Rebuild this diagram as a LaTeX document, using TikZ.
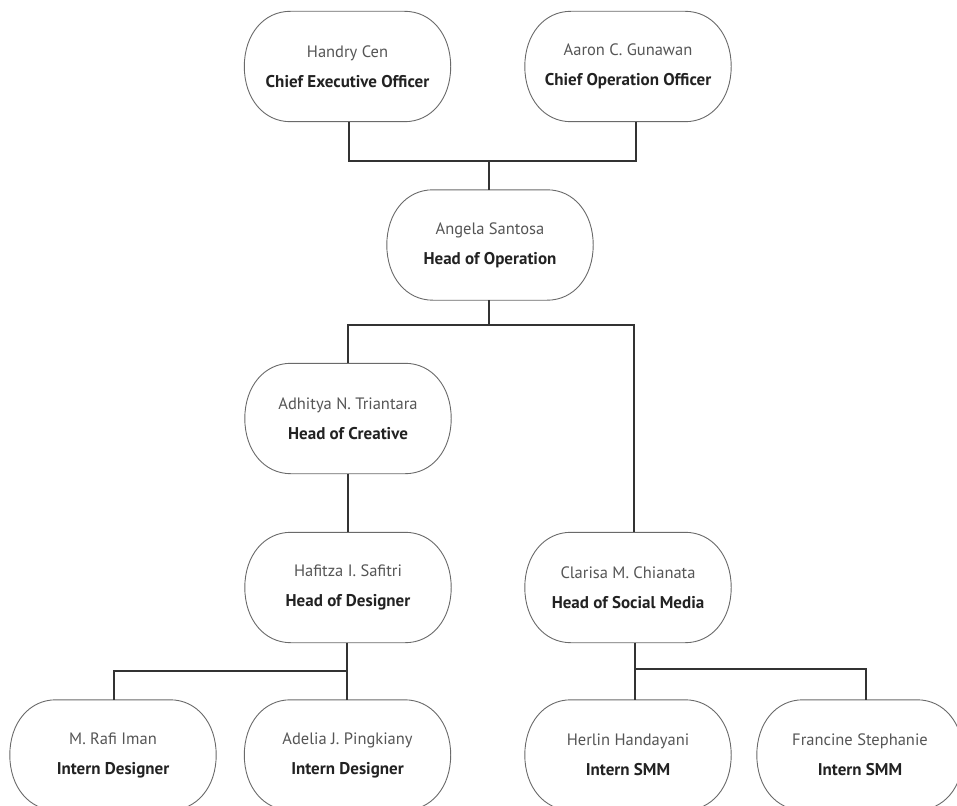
\documentclass[tikz,border=0pt]{standalone}
\usepackage{fontspec}
\setmainfont{PT Sans}
\usetikzlibrary{calc}
\definecolor{namegray}{HTML}{555555}
\definecolor{titleblack}{HTML}{222222}
\definecolor{boxgray}{HTML}{6A6A6A}
\definecolor{linegray}{HTML}{333333}
\newcommand{\person}[2]{{\color{namegray}\fontsize{16.5}{30}\selectfont #1}\\{\color{titleblack}\fontsize{17}{30}\selectfont\bfseries #2}}
\begin{document}
\begin{tikzpicture}[x=1pt,y=-1pt,
  personbox/.style={minimum width=206pt, minimum height=110pt, align=center, inner sep=0pt,
    font=\fontsize{17}{30}\selectfont},
  boxline/.style={draw=boxgray, line width=0.9pt},
  orgline/.style={draw=linegray, line width=1.2pt}]
\useasboundingbox (0,0) rectangle (957,805);
\clip (0,0) rectangle (957,805);
\fill[white] (0,0) rectangle (957,805);
% nodes
\node[personbox] (ceo) at (347.5,66.5) {\person{Handry Cen}{Chief Executive Officer}};
\node[personbox] (coo) at (628,66.5) {\person{Aaron C. Gunawan}{Chief Operation Officer}};
\node[personbox] (hop) at (490,245) {\person{Angela Santosa}{Head of Operation}};
\node[personbox] (hoc) at (348,418.5) {\person{Adhitya N. Triantara}{Head of Creative}};
\node[personbox] (hod) at (348,587.5) {\person{Hafitza I. Safitri}{Head of Designer}};
\node[personbox] (hsm) at (628,587.5) {\person{Clarisa M. Chianata}{Head of Social Media}};
\node[personbox] (id1) at (113,755) {\person{M. Rafi Iman}{Intern Designer}};
\node[personbox] (id2) at (347.5,755) {\person{Adelia J. Pingkiany}{Intern Designer}};
\node[personbox] (sm1) at (628,755) {\person{Herlin Handayani}{Intern SMM}};
\node[personbox] (sm2) at (860,755) {\person{Francine Stephanie}{Intern SMM}};
% box outlines with elliptical ends
\foreach \n in {ceo,coo,hop,hoc,hod,hsm,id1,id2,sm1,sm2}{
  \coordinate (tl) at ($(\n.north west)+(46,0)$);
  \coordinate (tr) at ($(\n.north east)+(-46,0)$);
  \coordinate (br) at ($(\n.south east)+(-46,0)$);
  \coordinate (bl) at ($(\n.south west)+(46,0)$);
  \draw[boxline] (\n.west)
    .. controls ($(\n.west)!0.58!(\n.north west)$) and ($(tl)!0.58!(\n.north west)$) .. (tl)
    -- (tr)
    .. controls ($(tr)!0.58!(\n.north east)$) and ($(\n.east)!0.58!(\n.north east)$) .. (\n.east)
    .. controls ($(\n.east)!0.58!(\n.south east)$) and ($(br)!0.58!(\n.south east)$) .. (br)
    -- (bl)
    .. controls ($(bl)!0.58!(\n.south west)$) and ($(\n.west)!0.58!(\n.south west)$) .. (\n.west) -- cycle;
}
% junction coordinates
\coordinate (j1) at (489,161);
\coordinate (j2) at (489,325);
\coordinate (j3) at (347,671);
\coordinate (j4) at (635,669);
% connectors
\draw[orgline] ([xshift=1.5pt]ceo.south) |- (j1);
\draw[orgline] ([xshift=8pt]coo.south) |- (j1);
\draw[orgline] (j1) -- ([xshift=-1pt]hop.north);
\draw[orgline] ([xshift=-1pt]hop.south) -- (j2);
\draw[orgline] (j2) -| (hoc.north);
\draw[orgline] (j2) -| ([xshift=6pt]hsm.north);
\draw[orgline] (hoc.south) -- (hod.north);
\draw[orgline] ([xshift=-1pt]hod.south) -- ([xshift=-0.5pt]id2.north);
\draw[orgline] (j3) -| ([xshift=1pt]id1.north);
\draw[orgline] ([xshift=7pt]hsm.south) -- ([xshift=7pt]sm1.north);
\draw[orgline] (j4) -| ([xshift=6pt]sm2.north);
\end{tikzpicture}
\end{document}
